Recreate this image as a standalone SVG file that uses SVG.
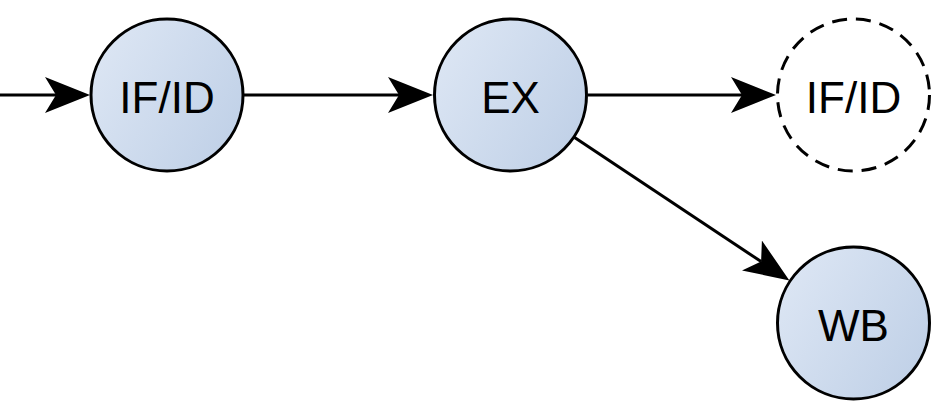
<svg xmlns="http://www.w3.org/2000/svg" width="942" height="406" viewBox="0 0 942 406">
  <style>
    .node { fill: url(#g); stroke: #000; stroke-width: 3; }
    .ghost { fill: #fff; stroke: #000; stroke-width: 3; stroke-dasharray: 15 9; }
    .lbl { font-family: "Liberation Sans", Arial, sans-serif; font-size: 44px; fill: #000; text-anchor: middle; }
    .edge { stroke: #000; stroke-width: 3; fill: none; marker-end: url(#arr); }
  </style>
  <defs>
    <linearGradient id="g" x1="0" y1="0" x2="1" y2="0.6">
      <stop offset="0" stop-color="#dfe8f5"/>
      <stop offset="1" stop-color="#c2d2e8"/>
    </linearGradient>
    <marker id="arr" markerUnits="userSpaceOnUse" viewBox="0 0 45 36" markerWidth="45" markerHeight="36" refX="11" refY="18" orient="auto">
      <path d="M45,18 L0,0 L11,18 L0,36 Z" fill="#000"/>
    </marker>
  </defs>
  <g id="connectors">
    <line class="edge" x1="0" y1="95" x2="56" y2="95"/>
    <line class="edge" x1="244" y1="95" x2="399" y2="95"/>
    <line class="edge" x1="588" y1="95" x2="742" y2="95"/>
    <line class="edge" x1="574.6" y1="137.6" x2="761.1" y2="261.6"/>
  </g>
  <g id="ifid">
    <circle class="node" cx="167" cy="95" r="76"/>
    <text class="lbl" x="167" y="112.5">IF/ID</text>
  </g>
  <g id="ex">
    <circle class="node" cx="510.5" cy="95" r="76"/>
    <text class="lbl" x="510.5" y="112.5">EX</text>
  </g>
  <g id="ifid2">
    <circle class="ghost" cx="853.5" cy="95" r="76"/>
    <text class="lbl" x="853.5" y="112.5">IF/ID</text>
  </g>
  <g id="wb">
    <circle class="node" cx="853.5" cy="323" r="76"/>
    <text class="lbl" x="853.5" y="341">WB</text>
  </g>
</svg>
